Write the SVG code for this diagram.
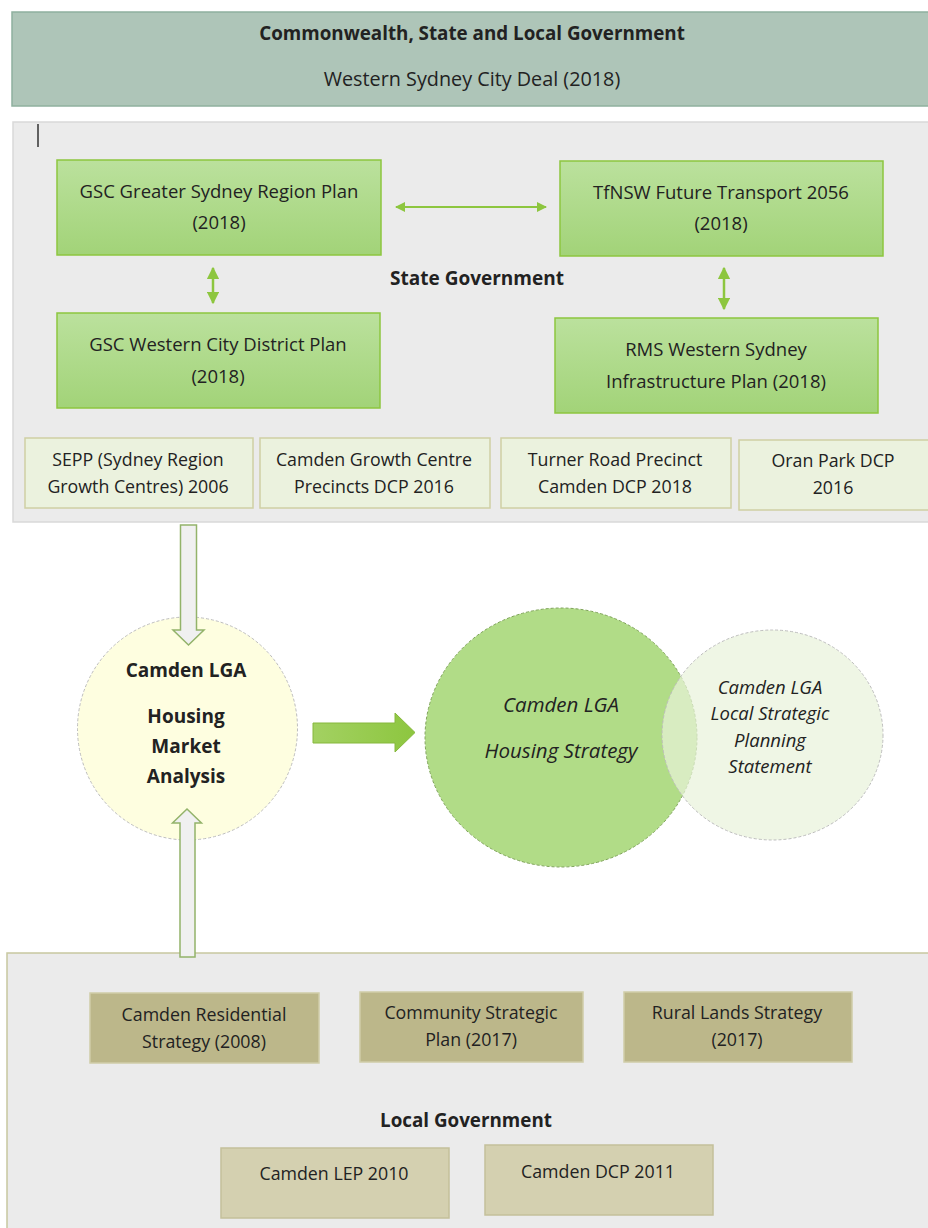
<svg xmlns="http://www.w3.org/2000/svg" width="928" height="1228" viewBox="0 0 928 1228">
<defs>
<linearGradient id="gbox" x1="0" y1="0" x2="0" y2="1">
<stop offset="0" stop-color="#bbe19d"/><stop offset="1" stop-color="#a2d378"/>
</linearGradient>
<linearGradient id="garrow" x1="0" y1="0" x2="1" y2="0">
<stop offset="0" stop-color="#a3d162"/><stop offset="1" stop-color="#8dc63f"/>
</linearGradient>
<marker id="ah" viewBox="0 0 10 10" refX="9" refY="5" markerWidth="5" markerHeight="5" orient="auto-start-reverse">
<path d="M0,0 L10,5 L0,10 z" fill="#8dc63f"/>
</marker>
</defs>
<style>
text{font-family:"Open Sans","Liberation Sans",sans-serif;fill:#222;text-anchor:middle}
.b{font-weight:bold}
.gb{fill:url(#gbox);stroke:#8dc63f;stroke-width:1.5}
.lb{fill:#ebf2de;stroke:#cfcfa4;stroke-width:1.5}
.kb{fill:#bcb78a;stroke:#d0cda8;stroke-width:1.5}
.kl{fill:#d4d0b0;stroke:#c4c09a;stroke-width:1.5}
.ts{font-size:18.5px}
.t16{font-size:17.8px}
.it{font-style:italic}
.conn{stroke:#8dc63f;fill:none}
.hollow{fill:#f0f0f0;stroke:#93b36a;stroke-width:1.5}
</style>

<g id="banner">
<rect x="12" y="12" width="922" height="94" fill="#aec5b8" stroke="#8fb09e" stroke-width="1.5"/>
<text x="472" y="40" class="b" font-size="18.8">Commonwealth, State and Local Government</text>
<text x="472" y="86" font-size="19.8">Western Sydney City Deal (2018)</text>
</g>

<g id="state-panel">
<rect x="13" y="122" width="920" height="400" fill="#ebebeb" stroke="#d9d9d9" stroke-width="1.5"/>
<line x1="38" y1="124" x2="38" y2="147" stroke="#333" stroke-width="1.5"/>
<text x="477" y="285" class="b" font-size="19">State Government</text>
</g>

<g id="gsc-region">
<rect x="57" y="160" width="324" height="95" class="gb"/>
<text x="219" y="198" class="ts">GSC Greater Sydney Region Plan</text>
<text x="219" y="229" class="ts">(2018)</text>
</g>
<g id="tfnsw">
<rect x="560" y="161" width="323" height="95" class="gb"/>
<text x="721" y="199" class="ts">TfNSW Future Transport 2056</text>
<text x="721" y="230" class="ts">(2018)</text>
</g>
<g id="gsc-district">
<rect x="57" y="313" width="323" height="95" class="gb"/>
<text x="218" y="351" class="ts">GSC Western City District Plan</text>
<text x="218" y="383" class="ts">(2018)</text>
</g>
<g id="rms">
<rect x="555" y="318" width="323" height="95" class="gb"/>
<text x="716" y="356" class="ts">RMS Western Sydney</text>
<text x="716" y="388" class="ts">Infrastructure Plan (2018)</text>
</g>

<g id="sepp">
<rect x="25" y="438" width="228" height="70" class="lb"/>
<text x="138" y="466" class="t16">SEPP (Sydney Region</text>
<text x="138" y="493" class="t16">Growth Centres) 2006</text>
</g>
<g id="growth-centre">
<rect x="260" y="438" width="230" height="70" class="lb"/>
<text x="374" y="466" class="t16">Camden Growth Centre</text>
<text x="374" y="493" class="t16">Precincts DCP 2016</text>
</g>
<g id="turner-road">
<rect x="501" y="438" width="230" height="70" class="lb"/>
<text x="615" y="466" class="t16">Turner Road Precinct</text>
<text x="615" y="493" class="t16">Camden DCP 2018</text>
</g>
<g id="oran-park">
<rect x="739" y="440" width="195" height="70" class="lb"/>
<text x="833" y="467" class="t16">Oran Park DCP</text>
<text x="833" y="494" class="t16">2016</text>
</g>

<g id="market-analysis">
<ellipse cx="187.5" cy="728.5" rx="110" ry="111.5" fill="#fefee0" stroke="#bdbdbd" stroke-dasharray="3 2"/>
<text x="186" y="677" class="b" font-size="19">Camden LGA</text>
<text x="186" y="723" class="b" font-size="19">Housing</text>
<text x="186" y="753" class="b" font-size="19">Market</text>
<text x="186" y="783" class="b" font-size="19">Analysis</text>
</g>

<g id="housing-strategy">
<ellipse cx="561" cy="737.5" rx="136" ry="129.5" fill="#b1dc87" stroke="#7fa35a" stroke-dasharray="3 2"/>
<text x="561" y="712" class="it" font-size="20.5">Camden LGA</text>
<text x="561" y="758" class="it" font-size="20.5">Housing Strategy</text>
</g>

<g id="lsps">
<ellipse cx="772.5" cy="735" rx="110.5" ry="105" fill="#e8f2da" fill-opacity="0.7" stroke="#bdbdbd" stroke-dasharray="3 2"/>
<text x="770" y="694" class="it" font-size="18.5">Camden LGA</text>
<text x="770" y="720" class="it" font-size="18.5">Local Strategic</text>
<text x="770" y="747" class="it" font-size="18.5">Planning</text>
<text x="770" y="773" class="it" font-size="18.5">Statement</text>
</g>

<g id="local-panel">
<rect x="7" y="953" width="926" height="280" fill="#ebebeb" stroke="#c8c8a0" stroke-width="1.5"/>
<text x="466" y="1127" class="b" font-size="18.8">Local Government</text>
</g>
<g id="residential">
<rect x="90" y="993" width="229" height="70" class="kb"/>
<text x="204" y="1021" class="t16">Camden Residential</text>
<text x="204" y="1048" class="t16">Strategy (2008)</text>
</g>
<g id="community">
<rect x="360" y="992" width="223" height="70" class="kb"/>
<text x="471" y="1019" class="t16">Community Strategic</text>
<text x="471" y="1046" class="t16">Plan (2017)</text>
</g>
<g id="rural">
<rect x="624" y="992" width="228" height="70" class="kb"/>
<text x="737" y="1019" class="t16">Rural Lands Strategy</text>
<text x="737" y="1046" class="t16">(2017)</text>
</g>
<g id="lep">
<rect x="221" y="1148" width="228" height="70" class="kl"/>
<text x="334" y="1180" class="t16">Camden LEP 2010</text>
</g>
<g id="dcp">
<rect x="485" y="1145" width="228" height="70" class="kl"/>
<text x="598" y="1178" class="t16">Camden DCP 2011</text>
</g>

<g id="connectors">
<line x1="396" y1="207" x2="546" y2="207" class="conn" stroke-width="2" marker-start="url(#ah)" marker-end="url(#ah)"/>
<line x1="213" y1="268" x2="213" y2="303" class="conn" stroke-width="2.5" marker-start="url(#ah)" marker-end="url(#ah)"/>
<line x1="724" y1="268" x2="724" y2="309" class="conn" stroke-width="2.5" marker-start="url(#ah)" marker-end="url(#ah)"/>
<path d="M180.5,525 H196.5 V630 H204 L188.5,645 L173,630 H180.5 Z" class="hollow"/>
<path d="M180,957 V823 H172.5 L187,809 L201.5,823 H195 V957 Z" class="hollow"/>
<path d="M313,723 H395 V713 L415,732.5 L395,752 V743 H313 Z" fill="url(#garrow)" stroke="#86b83c" stroke-width="1"/>
</g>
</svg>
